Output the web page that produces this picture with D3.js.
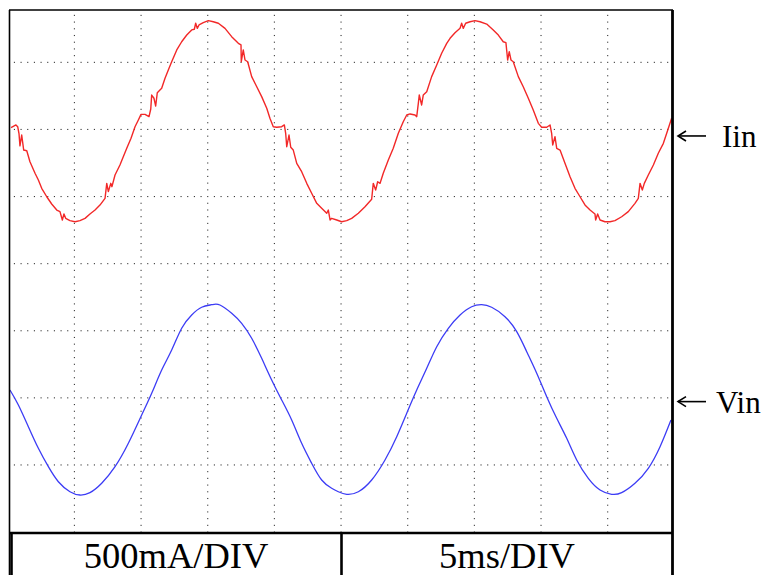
<!DOCTYPE html>
<html>
<head>
<meta charset="utf-8">
<script src="https://cdn.jsdelivr.net/npm/d3@7"></script>
<style>
  html, body { margin: 0; padding: 0; background: #fff; }
  svg { display: block; }
  .serif { font-family: "Liberation Serif", "Times New Roman", "DejaVu Serif", serif; }
</style>
</head>
<body>
<script>
// Input current trace (time in ms, current in A)
const iinTime = [0.25,0.62,0.75,0.85,0.92,1.05,1.20,1.43,1.67,2.05,2.30,2.55,2.93,3.30,3.68,3.92,4.10,4.22,4.35,4.67,5.05,5.42,5.80,6.17,6.55,6.92,7.30,7.43,7.55,7.73,7.82,8.05,8.42,8.67,8.93,9.25,9.55,9.80,10.00,10.30,10.60,10.73,10.80,10.97,11.10,11.22,11.55,11.80,12.10,12.30,12.68,13.05,13.43,13.80,14.00,14.10,14.22,14.35,14.67,15.05,15.42,15.80,16.30,16.80,17.30,17.50,17.52,17.67,17.80,18.00,18.30,18.68,19.05,19.43,19.67,19.92,20.18,20.55,20.75,20.85,20.93,21.10,21.23,21.42,21.68,22.05,22.43,22.80,23.18,23.55,23.93,24.05,24.18,24.30,24.68,25.05,25.43,25.80,26.30,26.80,27.30,27.42,27.60,27.75,27.93,28.17,28.55,28.92,29.30,29.67,29.93,30.18,30.55,30.68,30.80,30.87,31.05,31.17,31.43,31.80,32.18,32.55,32.93,33.18,33.55,33.93,34.05,34.17,34.35,34.68,35.05,35.43,35.93,36.42,36.80,37.17,37.37,37.45,37.50,37.62,37.75,37.92,38.30,38.67,39.05,39.42,39.80,40.05,40.43,40.68,40.80,40.88,41.05,41.18,41.43,41.80,42.18,42.55,42.93,43.30,43.68,44.05,44.10,44.25,44.43,44.80,45.18,45.55,46.05,46.55,47.05,47.30,47.43,47.60,47.75,48.05,48.43,48.80,49.18,49.43,49.80];
const iinAmps = [-0.048,-0.028,-0.041,-0.095,-0.184,-0.103,-0.215,-0.220,-0.302,-0.388,-0.438,-0.500,-0.563,-0.617,-0.662,-0.674,-0.736,-0.691,-0.724,-0.741,-0.749,-0.741,-0.724,-0.691,-0.662,-0.625,-0.575,-0.463,-0.525,-0.463,-0.488,-0.401,-0.326,-0.265,-0.202,-0.127,-0.041,0.009,0.051,0.051,0.034,0.091,0.195,0.171,0.113,0.212,0.245,0.320,0.394,0.443,0.531,0.592,0.642,0.680,0.685,0.730,0.692,0.717,0.734,0.749,0.741,0.730,0.692,0.630,0.580,0.568,0.443,0.531,0.456,0.443,0.332,0.257,0.183,0.096,0.022,-0.041,-0.045,-0.041,-0.028,-0.090,-0.190,-0.103,-0.194,-0.215,-0.314,-0.376,-0.463,-0.537,-0.612,-0.649,-0.686,-0.662,-0.736,-0.724,-0.736,-0.749,-0.741,-0.724,-0.686,-0.637,-0.582,-0.463,-0.513,-0.451,-0.463,-0.388,-0.289,-0.202,-0.090,-0.004,0.046,0.054,0.046,0.034,0.133,0.195,0.121,0.195,0.220,0.332,0.419,0.506,0.580,0.618,0.659,0.692,0.730,0.692,0.730,0.741,0.749,0.741,0.724,0.680,0.642,0.592,0.585,0.506,0.456,0.518,0.456,0.443,0.332,0.257,0.171,0.083,-0.016,-0.045,-0.045,-0.028,-0.090,-0.177,-0.115,-0.202,-0.215,-0.314,-0.414,-0.500,-0.563,-0.624,-0.662,-0.691,-0.736,-0.691,-0.736,-0.749,-0.749,-0.741,-0.712,-0.674,-0.612,-0.575,-0.463,-0.513,-0.463,-0.401,-0.326,-0.239,-0.165,-0.090,0.022];

// Input voltage trace (time in ms, voltage in V)
const vinTime = [0.17,0.80,1.55,2.30,3.05,3.80,4.67,5.42,6.17,7.05,8.05,9.05,10.05,10.80,11.55,12.30,13.05,13.80,14.55,15.30,15.92,16.80,17.55,18.30,19.05,19.80,20.55,21.30,22.05,22.80,23.55,24.30,24.80,25.43,26.30,27.30,28.30,29.18,29.93,30.68,31.43,32.18,33.05,33.93,34.80,35.55,36.30,37.30,38.18,38.93,39.68,40.43,41.18,41.93,42.68,43.55,44.43,45.30,46.05,47.05,48.05,48.93,49.75];
const vinVolts = [14.3,-8.0,-40.4,-72.6,-100.0,-122.4,-137.3,-142.2,-138.7,-124.7,-100.0,-65.1,-23.0,9.4,44.1,73.9,106.3,126.1,137.6,141.4,141.0,128.6,113.7,91.4,61.5,29.2,-0.6,-30.4,-65.1,-94.9,-119.8,-132.2,-137.3,-141.1,-137.3,-119.8,-90.0,-55.3,-20.4,14.3,46.6,78.8,106.3,126.1,138.4,141.4,137.6,123.5,101.2,71.4,39.2,4.3,-27.9,-57.7,-90.0,-117.3,-134.7,-141.1,-138.7,-124.7,-102.4,-70.2,-30.4];

// Scope settings shown in the footer
const footerLabels = ["500mA/DIV", "5ms/DIV"];
const channelLabels = ["Iin", "Vin"];
const timePerDiv = 5;      // ms
const ampsPerDiv = 0.5;    // A
const voltsPerDiv = 100;   // V
const xDivs = 10, yDivs = 8;

const W = 766, H = 575;
const svg = d3.select("body").append("svg").attr("width", W).attr("height", H);

// Screen geometry
const frame = { left: 9, right: 673, top: 10, bottom: 533 };
const gridX = d3.scaleLinear().domain([0, xDivs]).range([7.7, 674.3]);
const gridY = d3.scaleLinear().domain([0, yDivs]).range([-4.8, 532.0]);
const divH = gridY(1) - gridY(0);

const x = d3.scaleLinear().domain([0, xDivs * timePerDiv]).range(gridX.range());
const yI = d3.scaleLinear().domain([-ampsPerDiv, ampsPerDiv]).range([121.2 + divH, 121.2 - divH]);
const yV = d3.scaleLinear().domain([-voltsPerDiv, voltsPerDiv]).range([399.6 + divH, 399.6 - divH]);

svg.append("defs").append("clipPath").attr("id", "screen")
  .append("rect")
  .attr("x", frame.left).attr("y", frame.top)
  .attr("width", frame.right - frame.left).attr("height", frame.bottom - frame.top);

// Dotted graticule: one dot every tenth of a division
const grid = svg.append("g").attr("clip-path", "url(#screen)");
const dots = [];
for (let i = 1; i < xDivs; i++) {
  for (let k = 0; k <= yDivs * 10; k++) dots.push([gridX(i), gridY(k / 10)]);
}
for (let j = 1; j < yDivs; j++) {
  for (let k = 1; k < xDivs * 10; k++) {
    if (k % 10 !== 0) dots.push([gridX(k / 10), gridY(j)]);
  }
}
grid.selectAll("rect.dot").data(dots).join("rect")
  .attr("class", "dot")
  .attr("x", d => d[0] - 0.5).attr("y", d => d[1] - 0.5)
  .attr("width", 1.1).attr("height", 1.1)
  .attr("fill", "#333");

// Traces
const traces = svg.append("g").attr("clip-path", "url(#screen)");
const iinData = iinTime.map((t, i) => [t, iinAmps[i]]);
const vinData = vinTime.map((t, i) => [t, vinVolts[i]]);

traces.append("path")
  .datum(iinData)
  .attr("fill", "none")
  .attr("stroke", "#f22828")
  .attr("stroke-width", 1.4)
  .attr("stroke-linejoin", "round")
  .attr("d", d3.line().x(d => x(d[0])).y(d => yI(d[1])));

traces.append("path")
  .datum(vinData)
  .attr("fill", "none")
  .attr("stroke", "#3c3cf5")
  .attr("stroke-width", 1.3)
  .attr("d", d3.line().curve(d3.curveNatural).x(d => x(d[0])).y(d => yV(d[1])));

// Screen frame and footer table
const ink = svg.append("g").attr("stroke", "#000").attr("fill", "none");
ink.append("line").attr("x1", frame.left).attr("x2", frame.right).attr("y1", frame.top).attr("y2", frame.top).attr("stroke-width", 1.6);
ink.append("line").attr("x1", frame.left + 0.5).attr("x2", frame.left + 0.5).attr("y1", frame.top).attr("y2", H).attr("stroke-width", 1.6);
ink.append("line").attr("x1", frame.right - 0.5).attr("x2", frame.right - 0.5).attr("y1", frame.top).attr("y2", H).attr("stroke-width", 2.8);
ink.append("line").attr("x1", frame.left).attr("x2", frame.right).attr("y1", frame.bottom).attr("y2", frame.bottom).attr("stroke-width", 2.6);
ink.append("line").attr("x1", 11.5).attr("x2", 11.5).attr("y1", frame.bottom).attr("y2", H).attr("stroke-width", 2.6);
const mid = gridX(xDivs / 2);
ink.append("line").attr("x1", mid + 0.5).attr("x2", mid + 0.5).attr("y1", frame.bottom).attr("y2", H).attr("stroke-width", 2.6);

svg.selectAll("text.footer").data(footerLabels).join("text")
  .attr("class", "footer serif")
  .attr("x", (d, i) => i === 0 ? (11 + mid) / 2 : (mid + frame.right) / 2)
  .attr("y", 568)
  .attr("text-anchor", "middle")
  .attr("font-size", 36.5)
  .attr("fill", "#000")
  .text(d => d);

// Channel reference markers on the right
const markerY = [yI(-0.11), yV(-3)];
const markers = svg.selectAll("g.marker").data(channelLabels).join("g")
  .attr("class", "marker")
  .attr("transform", (d, i) => `translate(0,${markerY[i]})`);
markers.append("line")
  .attr("x1", 678).attr("x2", 706).attr("y1", 0).attr("y2", 0)
  .attr("stroke", "#000").attr("stroke-width", 1.6);
markers.append("path")
  .attr("d", "M686,-5 L678,0 L686,5")
  .attr("fill", "none").attr("stroke", "#000").attr("stroke-width", 1.6);
markers.append("text")
  .attr("class", "serif")
  .attr("x", (d, i) => i === 0 ? 722 : 716)
  .attr("y", 11)
  .attr("font-size", 31)
  .attr("fill", "#000")
  .text(d => d);
</script>
</body>
</html>
